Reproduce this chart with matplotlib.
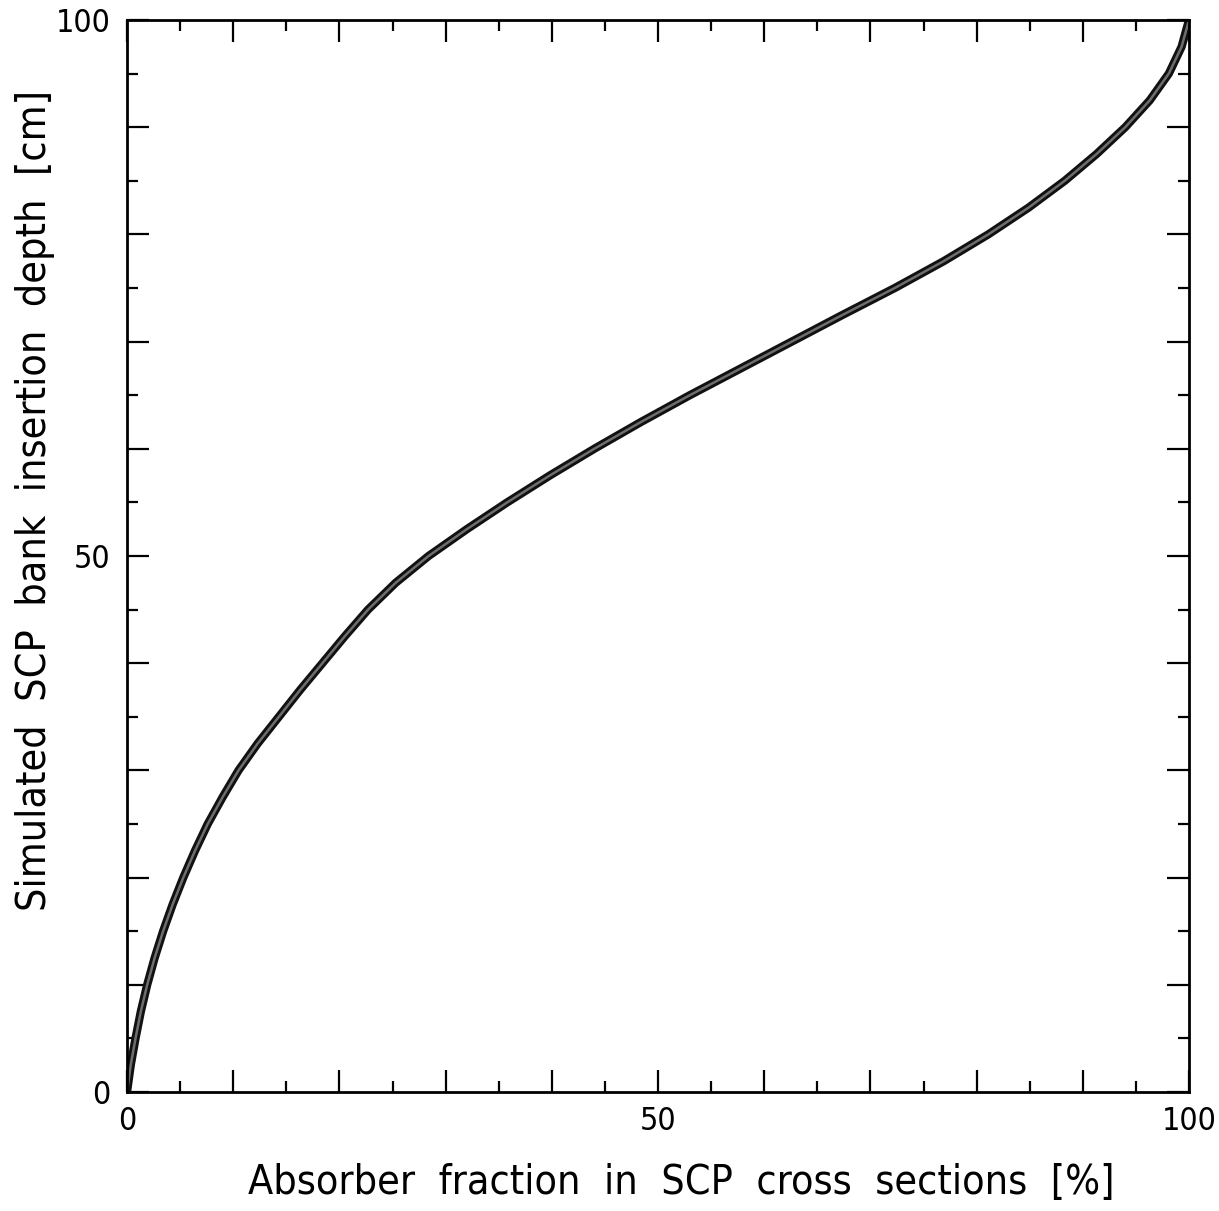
import matplotlib.pyplot as plt
from matplotlib.ticker import MultipleLocator, FuncFormatter

# absorber fraction [%]
absorber = [0, 0.35, 0.8, 1.3, 1.9, 2.6, 3.4, 4.3, 5.3, 6.4,
            7.6, 9.0, 10.5, 12.3, 14.3, 16.3, 18.4, 20.5, 22.7, 25.3,
            28.4, 32.0, 35.8, 39.8, 44.0, 48.4, 53.0, 57.8, 62.6, 67.4,
            72.3, 76.9, 81.1, 84.9, 88.3, 91.3, 94.0, 96.3, 98.1, 99.3, 100]
# insertion depth [cm]
depth = [0, 2.5, 5, 7.5, 10, 12.5, 15, 17.5, 20, 22.5,
         25, 27.5, 30, 32.5, 35, 37.5, 40, 42.5, 45, 47.5,
         50, 52.5, 55, 57.5, 60, 62.5, 65, 67.5, 70, 72.5,
         75, 77.5, 80, 82.5, 85, 87.5, 90, 92.5, 95, 97.5, 100]

plt.rcParams['font.family'] = ['DejaVu Sans']
plt.rcParams['font.stretch'] = 'condensed'

fig = plt.figure(figsize=(12.19, 12.11), dpi=100)
ax = fig.add_axes([0.1042, 0.0983, 0.8712, 0.8852])

ax.plot(absorber, depth, color='#111111', linewidth=6, solid_capstyle='round')
ax.plot(absorber, depth, color='#6e6e6e', linewidth=1.8, solid_capstyle='round')

ax.set_xlim(0, 100)
ax.set_ylim(0, 100)
ax.xaxis.set_major_locator(MultipleLocator(10))
ax.yaxis.set_major_locator(MultipleLocator(10))
ax.xaxis.set_minor_locator(MultipleLocator(5))
ax.yaxis.set_minor_locator(MultipleLocator(5))
only_ends = FuncFormatter(lambda v, p: f'{v:.0f}' if round(v) in (0, 50, 100) else '')
ax.xaxis.set_major_formatter(only_ends)
ax.yaxis.set_major_formatter(only_ends)

ax.tick_params(which='both', direction='in', top=True, right=True,
               width=1.6, labelsize=23)
ax.tick_params(which='major', length=16)
ax.tick_params(which='minor', length=8)
ax.tick_params(axis='x', pad=10)
ax.tick_params(axis='y', pad=12)

for s in ax.spines.values():
    s.set_linewidth(2)

ax.set_xlabel('Absorber  fraction  in  SCP  cross  sections  [%]', fontsize=29.5)
ax.set_ylabel('Simulated  SCP  bank  insertion  depth  [cm]', fontsize=29.5)
ax.xaxis.set_label_coords(0.5217, -0.066)
ax.yaxis.set_label_coords(-0.068, 0.552)

fig.savefig('out.png', dpi=100)
